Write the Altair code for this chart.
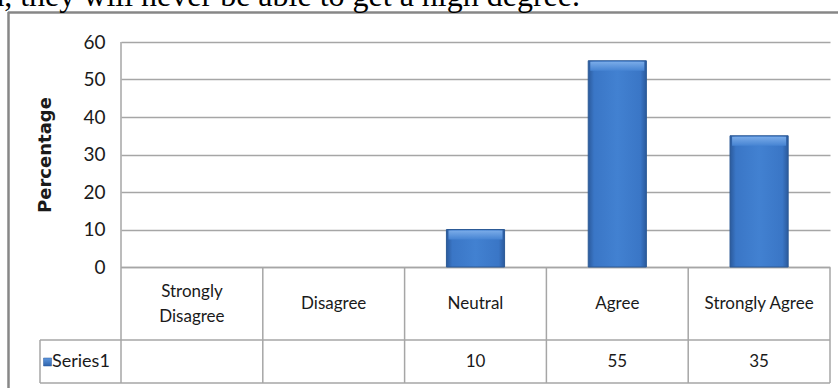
import altair as alt
import pandas as pd

# Survey responses (percentage of respondents)
categories = ["Strongly Disagree", "Disagree", "Neutral", "Agree", "Strongly Agree"]
header_labels = ["Strongly\nDisagree", "Disagree", "Neutral", "Agree", "Strongly Agree"]
values = [None, None, 10, 55, 35]
series_name = "Series1"
y_ticks = [0, 10, 20, 30, 40, 50, 60]
caption = "a, they will never be able to get a high degree."

W, H = 709, 225
PAD_L, PAD_T = 121, 42
LABEL_FONT = "Lato, sans-serif"
GRID = "#A6A6A6"
TEXT = "#1a1a1a"

df = pd.DataFrame({"cat": categories, "head": header_labels, "val": values})
bars_df = df.dropna(subset=["val"])

x_scale = alt.Scale(domain=categories, paddingInner=0.59, paddingOuter=0.295)
y_scale = alt.Scale(domain=[0, 60], nice=False)

x_enc = alt.X("cat:N", scale=x_scale, axis=None, sort=categories)
y_enc = alt.Y(
    "val:Q",
    scale=y_scale,
    axis=alt.Axis(
        values=y_ticks,
        title="Percentage",
        titleFont="DejaVu Sans",
        titleFontWeight="bold",
        titleFontSize=18,
        titleColor=TEXT,
        titlePadding=28,
        labelFont=LABEL_FONT,
        labelFontSize=19,
        labelColor=TEXT,
        labelPadding=16,
        ticks=False,
        domain=False,
        grid=True,
        gridColor=GRID,
        gridWidth=1.5,
    ),
)

body_fill = alt.LinearGradient(
    gradient="linear",
    x1=0, x2=1, y1=0, y2=0,
    stops=[
        alt.GradientStop(color="#2B5A9C", offset=0),
        alt.GradientStop(color="#3A76C6", offset=0.1),
        alt.GradientStop(color="#4281D1", offset=0.5),
        alt.GradientStop(color="#3A76C6", offset=0.9),
        alt.GradientStop(color="#2B5A9C", offset=1),
    ],
)
bars = (
    alt.Chart(bars_df)
    .mark_bar(fill=body_fill, stroke="#2C5A96", strokeWidth=1)
    .encode(x=x_enc, y=y_enc)
)

bevel_fill = alt.LinearGradient(
    gradient="linear",
    x1=0, x2=0, y1=0, y2=1,
    stops=[
        alt.GradientStop(color="#7DAEEA", offset=0),
        alt.GradientStop(color="#4684D3", offset=1),
    ],
)
bevel = (
    alt.Chart(bars_df)
    .mark_tick(fill=bevel_fill, thickness=9, size=54, opacity=0.95, orient="horizontal")
    .encode(x=x_enc, y=y_enc, yOffset=alt.value(5.5))
)

# Data table grid under the plot
row_top = H + 0.5
row_mid = 340 - PAD_T
row_bot = 383 - PAD_T
lines = []
for k in range(6):
    xk = k * W / 5
    lines.append(dict(x=xk, x2=xk, y=0 if k == 0 else row_top, y2=row_bot))
lines.append(dict(x=0, x2=W, y=row_top, y2=row_top))
lines.append(dict(x=40 - PAD_L, x2=W, y=row_mid, y2=row_mid))
lines.append(dict(x=40 - PAD_L, x2=W, y=row_bot, y2=row_bot))
lines.append(dict(x=40 - PAD_L, x2=40 - PAD_L, y=row_mid, y2=row_bot))
table_lines = [
    alt.Chart(pd.DataFrame({"k": [0]}))
    .mark_rule(color=GRID, strokeWidth=1.5)
    .encode(x=alt.value(l["x"]), x2=alt.value(l["x2"]), y=alt.value(l["y"]), y2=alt.value(l["y2"]))
    for l in lines
]

header_mid = 304 - PAD_T
LINE_H = 25
text_style = dict(font=LABEL_FONT, fontSize=17, color=TEXT, baseline="middle")
headers_single = (
    alt.Chart(df)
    .transform_filter("indexof(datum.head, '\\n') < 0")
    .mark_text(**text_style)
    .encode(x=x_enc, y=alt.value(header_mid), text="head:N")
)
headers_double = (
    alt.Chart(df)
    .transform_filter("indexof(datum.head, '\\n') >= 0")
    .mark_text(lineBreak="\n", lineHeight=LINE_H, **text_style)
    .encode(x=x_enc, y=alt.value(header_mid - LINE_H / 2), text="head:N")
)
cells = (
    alt.Chart(bars_df)
    .mark_text(**text_style)
    .encode(x=x_enc, y=alt.value(362 - PAD_T), text=alt.Text("val:Q", format="d"))
)
series_label = (
    alt.Chart(pd.DataFrame({"s": [series_name]}))
    .mark_text(font=LABEL_FONT, fontSize=18, color=TEXT, align="left", baseline="middle")
    .encode(x=alt.value(52 - PAD_L), y=alt.value(362 - PAD_T), text="s:N")
)
key_fill = alt.LinearGradient(
    gradient="linear",
    x1=0, x2=0, y1=0, y2=1,
    stops=[
        alt.GradientStop(color="#5F98E0", offset=0),
        alt.GradientStop(color="#2E63AC", offset=1),
    ],
)
series_key = (
    alt.Chart(pd.DataFrame({"s": [series_name]}))
    .mark_square(size=64, filled=True, fill=key_fill, stroke="#2B5A9C", strokeWidth=0.5, opacity=1)
    .encode(x=alt.value(47.5 - PAD_L), y=alt.value(362 - PAD_T))
)

# Frame around the chart object
frame = [
    alt.Chart(pd.DataFrame({"k": [0]}))
    .mark_rule(color="#878787", strokeWidth=2.5)
    .encode(x=alt.value(8 - PAD_L), x2=alt.value(838 - PAD_L), y=alt.value(12.5 - PAD_T)),
    alt.Chart(pd.DataFrame({"k": [0]}))
    .mark_rule(color="#878787", strokeWidth=2.5)
    .encode(x=alt.value(8.5 - PAD_L), y=alt.value(12 - PAD_T), y2=alt.value(388 - PAD_T)),
]

caption_text = (
    alt.Chart(pd.DataFrame({"t": [caption]}))
    .mark_text(font="Liberation Serif", fontSize=32, color="#000000", align="right", baseline="alphabetic")
    .encode(x=alt.value(580 - PAD_L), y=alt.value(6 - PAD_T), text="t:N")
)

chart = (
    alt.layer(
        *table_lines, bars, bevel, headers_single, headers_double, cells,
        series_label, series_key, *frame, caption_text,
    )
    .properties(
        width=W,
        height=H,
        autosize=alt.AutoSizeParams(type="none"),
        padding={"left": PAD_L, "top": PAD_T, "right": 838 - PAD_L - W, "bottom": 388 - PAD_T - H},
        background="white",
    )
    .configure_view(stroke=None)
)

chart.save("out.html", embed_options={"renderer": "svg", "actions": False})
